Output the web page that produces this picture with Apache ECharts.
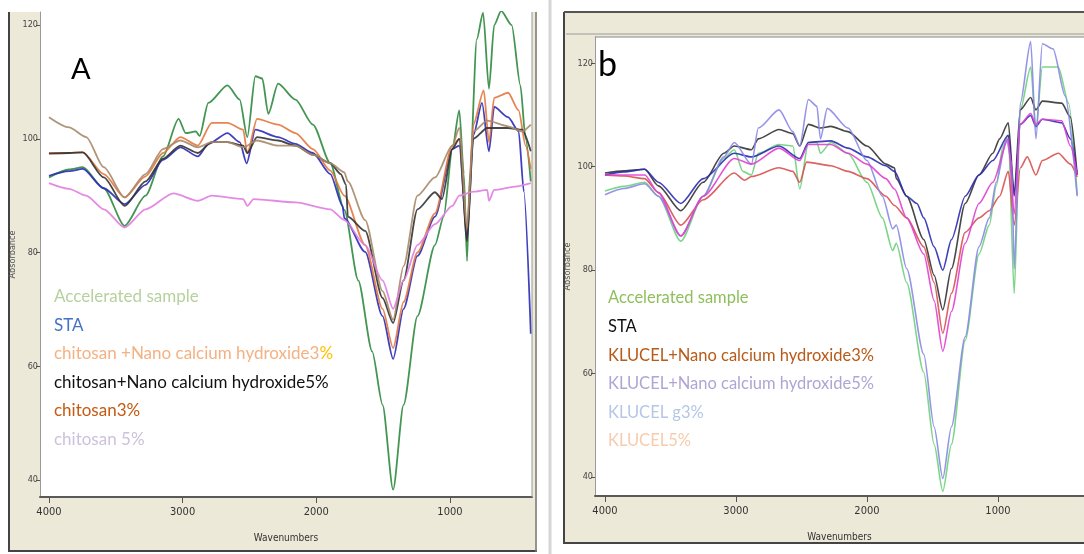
<!DOCTYPE html>
<html><head><meta charset="utf-8">
<script src="https://cdn.jsdelivr.net/npm/echarts@6/dist/echarts.min.js"></script>
<style>html,body{margin:0;padding:0;background:#fff}#c{width:1084px;height:554px}</style>
</head><body><div id="c"></div>
<script>
// ---------- DATA ----------
const xTicks = [4000, 3000, 2000, 1000];
const yTicks = [40, 60, 80, 100, 120];
const xTitle = 'Wavenumbers';
const yTitle = 'Absorbance';

// Panel A  [wavenumber, absorbance]
const A_accelerated = [[4000,93.2],[3850,94.6],[3747,95.0],[3590,91.3],[3434,84.7],[3277,90.0],[3147,96.9],[3030,103.5],[2977,101.0],[2900,101.3],[2873,100.5],[2808,106.3],[2664,109.4],[2573,106.9],[2516,100.3],[2456,111.0],[2404,110.6],[2359,104.4],[2286,109.7],[2156,106.9],[2025,102.5],[1895,95.7],[1790,87.5],[1686,75.1],[1582,62.6],[1504,53.2],[1425,38.3],[1347,53.2],[1243,68.8],[1112,81.3],[1047,86.3],[982,98.2],[930,105.0],[896,93.8],[872,78.5],[851,93.8],[799,117.5],[752,122.2],[708,108.8],[669,120.0],[617,122.5],[538,120.0],[473,109.4],[434,100.0],[395,92.5]];
const A_sta = [[4000,93.5],[3850,94.3],[3747,94.7],[3590,91.3],[3434,88.5],[3277,91.9],[3147,96.3],[3017,98.5],[2886,96.9],[2808,99.1],[2664,101.0],[2573,99.4],[2521,95.7],[2456,101.6],[2286,100.3],[2156,99.1],[2025,97.5],[1895,93.8],[1803,88.2],[1790,86.0],[1634,80.1],[1504,68.8],[1425,61.3],[1347,70.1],[1243,79.4],[1112,86.3],[982,98.2],[930,98.8],[872,82.6],[825,100.6],[760,106.3],[708,97.8],[669,105.6],[565,103.8],[486,101.3],[447,90.7],[395,65.7]];
const A_chitNano3 = [[4000,97.5],[3850,97.5],[3747,97.6],[3590,93.8],[3434,89.7],[3277,93.4],[3147,97.5],[3017,100.3],[2886,98.8],[2782,102.8],[2664,102.8],[2547,101.6],[2516,97.5],[2443,103.5],[2286,102.5],[2156,101.0],[2025,98.2],[1895,94.4],[1790,90.0],[1634,81.3],[1504,70.1],[1425,63.2],[1347,71.3],[1243,80.0],[1112,86.9],[982,98.8],[930,100.0],[872,83.8],[825,102.5],[747,108.5],[708,99.4],[669,107.2],[565,108.1],[486,105.0],[434,98.8],[395,94.7]];
const A_chitNano5 = [[4000,97.4],[3850,97.5],[3747,97.6],[3590,93.2],[3434,88.2],[3277,92.5],[3147,96.5],[3017,98.8],[2886,97.5],[2782,99.4],[2664,99.4],[2547,98.8],[2516,97.5],[2443,100.3],[2286,99.7],[2156,98.8],[2025,97.2],[1895,95.7],[1817,93.8],[1777,91.9],[1764,86.3],[1634,83.8],[1504,72.0],[1425,67.6],[1347,75.1],[1243,87.6],[1112,90.6],[1060,89.4],[982,98.2],[930,100.0],[872,82.0],[825,100.0],[721,101.9],[565,101.9],[460,101.6],[395,97.8]];
const A_chit3 = [[4000,103.8],[3850,102.0],[3721,100.3],[3590,95.0],[3434,89.7],[3277,93.8],[3147,98.2],[3017,99.7],[2886,98.5],[2782,99.4],[2664,99.4],[2547,98.5],[2443,99.7],[2286,98.8],[2156,98.8],[2025,97.2],[1895,95.7],[1790,94.1],[1764,92.5],[1634,85.7],[1504,73.2],[1425,68.2],[1347,77.6],[1243,90.0],[1112,93.2],[982,98.8],[930,101.9],[872,84.4],[825,101.3],[721,103.2],[565,102.2],[460,101.3],[395,102.5]];
const A_chit5 = [[4000,92.2],[3850,91.2],[3721,90.0],[3590,87.6],[3434,84.4],[3277,87.6],[3069,90.4],[2886,89.1],[2782,90.0],[2547,89.4],[2516,88.2],[2469,89.4],[2156,88.8],[1895,87.6],[1790,85.7],[1634,81.3],[1504,75.1],[1425,70.1],[1347,75.1],[1243,81.3],[1112,85.0],[982,88.2],[930,90.0],[825,90.7],[721,91.0],[708,89.1],[669,91.0],[512,91.6],[395,92.2]];

// Panel b
const B_accelerated = [[4000,95.3],[3855,96.2],[3697,97.0],[3592,94.3],[3421,85.6],[3250,94.3],[3092,101.6],[3013,103.3],[2947,99.1],[2882,98.4],[2829,102.6],[2671,104.3],[2566,104.0],[2513,95.7],[2447,104.7],[2382,104.7],[2355,102.6],[2276,104.7],[2145,102.6],[2000,97.0],[1882,90.1],[1803,83.8],[1776,85.2],[1697,77.6],[1566,60.2],[1487,46.3],[1421,37.2],[1355,46.3],[1250,66.4],[1145,83.1],[1066,88.7],[1013,96.3],[961,104.0],[921,106.1],[876,75.5],[829,111.0],[750,119.3],[710,107.5],[661,119.3],[539,119.3],[461,112.3],[395,94.6]];
const B_sta = [[4000,98.8],[3855,99.2],[3697,99.5],[3592,96.3],[3421,91.5],[3250,97.0],[3092,102.6],[3013,104.0],[2882,103.3],[2829,105.4],[2671,107.2],[2566,106.4],[2513,104.0],[2447,108.2],[2355,107.5],[2276,107.8],[2145,106.8],[2000,104.0],[1855,100.5],[1790,99.8],[1776,97.7],[1697,94.3],[1566,85.9],[1487,79.0],[1421,72.3],[1355,80.3],[1250,92.9],[1145,98.4],[1039,102.6],[987,105.4],[921,108.5],[876,95.0],[829,111.0],[750,113.4],[710,111.0],[661,112.7],[513,112.3],[447,109.6],[395,98.4]];
const B_klucelNano3 = [[4000,98.4],[3855,98.2],[3697,97.7],[3592,95.0],[3421,88.7],[3250,93.6],[3013,98.8],[2934,97.4],[2882,98.1],[2671,99.8],[2566,99.1],[2513,97.0],[2461,100.9],[2276,100.2],[2145,99.1],[2000,97.7],[1855,94.3],[1790,92.5],[1697,90.1],[1566,84.5],[1487,77.6],[1421,67.8],[1355,75.5],[1250,87.3],[1145,90.1],[1066,91.5],[987,94.3],[921,99.1],[876,88.7],[829,99.8],[776,101.9],[710,98.4],[661,101.2],[539,102.6],[447,100.5],[395,98.0]];
const B_klucelNano5 = [[4000,98.4],[3855,99.0],[3697,99.5],[3592,97.0],[3421,92.9],[3250,97.7],[3013,102.6],[2882,101.9],[2671,104.0],[2513,101.6],[2447,104.7],[2276,105.0],[2145,103.6],[2000,101.9],[1855,100.2],[1790,99.1],[1697,94.3],[1618,92.9],[1566,90.1],[1487,84.5],[1421,80.0],[1355,85.9],[1250,94.3],[1145,98.4],[1039,101.2],[921,106.1],[876,94.3],[829,108.2],[750,109.9],[710,107.8],[661,109.2],[513,108.5],[447,105.4],[395,98.4]];
const B_klucelG3 = [[4000,94.6],[3855,95.8],[3697,96.7],[3592,94.3],[3421,86.6],[3250,94.3],[3092,101.9],[3013,104.7],[2882,100.5],[2829,107.5],[2671,111.0],[2566,106.8],[2513,104.0],[2447,113.0],[2382,111.7],[2355,105.4],[2303,111.3],[2145,107.5],[2000,101.2],[1882,94.3],[1803,88.0],[1776,88.7],[1697,80.3],[1566,63.7],[1487,49.7],[1421,39.7],[1355,49.7],[1250,67.1],[1145,84.5],[1066,90.1],[1013,97.0],[934,105.4],[895,100.5],[876,80.3],[829,112.3],[750,124.2],[710,105.4],[661,123.8],[579,122.8],[487,113.7],[395,94.3]];
const B_klucel5 = [[4000,98.4],[3855,98.4],[3697,98.4],[3592,95.0],[3421,86.6],[3250,94.3],[3013,101.6],[2882,100.5],[2671,103.6],[2513,101.2],[2447,104.3],[2276,104.3],[2145,102.6],[2000,100.5],[1855,97.7],[1790,95.7],[1697,90.1],[1566,83.1],[1487,74.1],[1421,64.3],[1355,72.0],[1250,85.2],[1145,92.9],[1039,97.0],[921,105.4],[876,90.8],[829,108.2],[750,110.3],[710,108.2],[661,109.2],[513,108.9],[447,104.0],[395,98.4]];

const labelsA = ['Accelerated sample','STA','chitosan +Nano calcium hydroxide3','chitosan+Nano calcium hydroxide5%','chitosan3%','chitosan 5%'];
const labelsB = ['Accelerated sample','STA','KLUCEL+Nano calcium hydroxide3%','KLUCEL+Nano calcium hydroxide5%','KLUCEL g3%','KLUCEL5%'];
const panelLetters = ['A','b'];

// ---------- STYLE ----------
const beige = '#ece9d8';
const tickFont = "'DejaVu Sans Condensed','Liberation Sans Narrow',sans-serif";
const labFont = "Lato, 'Noto Sans', sans-serif";
const lineColA = ['#2f8a3f','#2b2bb8','#e3783f','#333333','#a98a6a','#e07ee0'];
const lineColB = ['#6fd07a','#333333','#d85050','#2b2bb0','#8a8ae6','#e040d0'];
const textColA = ['#b7d19e','#4472c4','#f4b183','#111111','#c55a11','#ccc2dc'];
const textColB = ['#8fbf5c','#111111','#b85a18','#b0a5d4','#b4c7e7','#f8cbad'];

const seriesA = [A_accelerated, A_sta, A_chitNano3, A_chitNano5, A_chit3, A_chit5];
const seriesB = [B_accelerated, B_sta, B_klucelNano3, B_klucelNano5, B_klucelG3, B_klucel5];

function xAx(gi, min, max){
  return {gridIndex: gi, type:'value', inverse:true, min:min, max:max,
    name: xTitle, nameLocation:'middle', nameGap: 36,
    nameTextStyle:{fontFamily: tickFont, fontSize:10, color:'#333'},
    axisLine:{onZero:false, lineStyle:{color:'#5a5a5a', width:2}},
    axisTick:{customValues: xTicks, length:6, lineStyle:{color:'#555'}},
    axisLabel:{customValues: xTicks, formatter: v => String(v), fontFamily: tickFont, fontSize:11, color:'#333', margin:10},
    splitLine:{show:false}};
}
function yAx(gi, min, max){
  return {gridIndex: gi, type:'value', min:min, max:max,
    name: yTitle, nameLocation:'middle', nameGap: 23, nameRotate: 90,
    nameTextStyle:{fontFamily: tickFont, fontSize:9, color:'#555'},
    axisLine:{onZero:false, lineStyle:{color:'#9a9a9a', width:1}},
    axisTick:{customValues: yTicks, length:4, lineStyle:{color:'#555'}},
    axisLabel:{customValues: yTicks, formatter: v => String(v), fontFamily: tickFont, fontSize:9, color:'#444', margin:2},
    splitLine:{show:false}};
}

const series = [];
seriesA.forEach((d,i)=>series.push({type:'line', xAxisIndex:0, yAxisIndex:0, data:d, symbol:'none', silent:true,
  smooth:0.25, smoothMonotone:'x',
  lineStyle:{color:lineColA[i], width:1.8, opacity:0.9}, z: 2+i}));
seriesB.forEach((d,i)=>series.push({type:'line', xAxisIndex:1, yAxisIndex:1, data:d, symbol:'none', silent:true,
  smooth:0.25, smoothMonotone:'x',
  lineStyle:{color:lineColB[i], width:1.6, opacity:0.9}, z: 2+i}));

const graphics = [
  // Panel A frame
  {type:'rect', shape:{x:9, y:12, width:528, height:540}, style:{fill:beige}, z:-10},
  {type:'line', shape:{x1:9, y1:12, x2:9, y2:552}, style:{stroke:'#444', lineWidth:2}, z:-9},
  {type:'line', shape:{x1:9, y1:551, x2:537, y2:551}, style:{stroke:'#444', lineWidth:2}, z:-9},
  {type:'line', shape:{x1:536, y1:12, x2:536, y2:552}, style:{stroke:'#777', lineWidth:1.5}, z:-9},
  {type:'line', shape:{x1:532, y1:12, x2:532, y2:497}, style:{stroke:'#999', lineWidth:1}, z:50},
  // Panel b frame
  {type:'line', shape:{x1:550, y1:0, x2:550, y2:554}, style:{stroke:'#d5d5d5', lineWidth:3}, z:-9},
  {type:'rect', shape:{x:564, y:12, width:520, height:531}, style:{fill:beige}, z:-10},
  {type:'line', shape:{x1:564, y1:12, x2:564, y2:544}, style:{stroke:'#444', lineWidth:2}, z:-9},
  {type:'line', shape:{x1:564, y1:12, x2:1084, y2:12}, style:{stroke:'#555', lineWidth:2}, z:-9},
  {type:'line', shape:{x1:566, y1:34, x2:1084, y2:34}, style:{stroke:'#9a9a9a', lineWidth:1}, z:-9},
  {type:'line', shape:{x1:564, y1:543, x2:1084, y2:543}, style:{stroke:'#444', lineWidth:2}, z:-9},
  {type:'line', shape:{x1:595, y1:37, x2:1084, y2:37}, style:{stroke:'#888', lineWidth:1}, z:50},
  // Panel letters
  {type:'text', x:71, y:55, style:{text:panelLetters[0], fontFamily:labFont, fontSize:29, fill:'#000'}, z:100},
  {type:'text', x:598, y:48, style:{text:panelLetters[1], fontFamily:labFont, fontSize:34, fill:'#000'}, z:100}
];
const yA = [297, 325.5, 354, 382.5, 411, 439.5];
labelsA.forEach((t,i)=>{
  const st = {text: i===2 ? t+'{g|%}' : t, fontFamily:labFont, fontSize:17, fill:textColA[i],
    verticalAlign:'middle', rich:{g:{fill:'#ffc000', fontFamily:labFont, fontSize:17}}};
  graphics.push({type:'text', x:54, y:yA[i], style:st, z:100});
});
const yB = [298, 327, 355.5, 384, 412.5, 441];
labelsB.forEach((t,i)=>{
  graphics.push({type:'text', x:608, y:yB[i], style:{text:t, fontFamily:labFont, fontSize:16.5, fill:textColB[i], verticalAlign:'middle'}, z:100});
});

const option = {
  animation:false,
  backgroundColor:'#ffffff',
  grid:[
    {left:40, top:12, width:492, height:485, show:true, backgroundColor:'#fff', borderWidth:0},
    {left:595, top:37, width:489, height:459, show:true, backgroundColor:'#fff', borderWidth:0}
  ],
  xAxis:[xAx(0, 386, 4067), xAx(1, 343, 4076)],
  yAxis:[yAx(0, 37.0, 122.3), yAx(1, 36.3, 125.1)],
  series: series,
  graphic: graphics
};
const chart = echarts.init(document.getElementById('c'), null, {renderer:'canvas'});
chart.setOption(option);
</script></body></html>
